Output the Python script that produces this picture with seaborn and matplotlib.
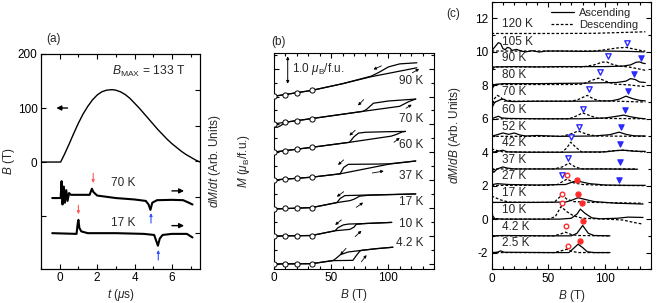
import matplotlib
matplotlib.use("Agg")
import matplotlib.pyplot as plt
from matplotlib.lines import Line2D
from matplotlib.ticker import MultipleLocator, FixedLocator, NullFormatter
import numpy as np
import pandas as pd
import seaborn as sns

# ================= DATA =================
# ---- panel (a): pulsed field profile and dM/dt traces ----
t_field = [-1.0, 0.05, 0.25, 0.5, 0.75, 1.0, 1.25, 1.5, 1.75, 2.0, 2.25, 2.5, 2.8, 3.0,
           3.25, 3.5, 3.75, 4.0, 4.25, 4.5, 4.75, 5.0, 5.25, 5.5, 5.75, 6.0, 6.25,
           6.5, 6.75, 7.0, 7.25, 7.5]
B_field = [0, 0, 14, 33, 53, 72, 89, 103, 115, 124, 130, 133, 134, 133,
           130, 125, 118, 109, 100, 90, 80, 70, 60, 51, 42, 34, 27,
           20, 14, 9, 4, 0]
dmdt_70K_t = [-0.4, 0.05, 0.1, 0.15, 0.22, 0.28, 0.35, 0.42, 0.5, 0.6, 1.0, 1.6, 1.72, 1.8,
              2.0, 3.0, 4.0, 4.6, 4.75, 4.85, 4.95, 5.2, 6.0, 6.6, 6.9, 7.1]
dmdt_70K_v = [-1.02, -1.02, -0.55, -1.2, -0.7, -1.15, -0.8, -1.1, -0.88, -0.93, -0.93, -0.93,
              -0.76, -0.85, -0.95, -1.02, -1.06, -1.1, -1.2, -1.35, -1.15, -1.08, -1.07,
              -1.08, -1.15, -1.2]
dmdt_17K_t = [-0.4, 0.9, 0.97, 1.0, 1.05, 1.15, 1.5, 3.0, 4.5, 5.05, 5.15, 5.25, 5.35, 5.5,
              6.0, 6.8, 7.1]
dmdt_17K_v = [-2.0, -2.02, -1.7, -1.63, -1.85, -1.95, -2.0, -2.0, -2.02, -2.05, -2.2, -2.35,
              -2.15, -2.05, -2.02, -2.02, -2.12]

# ---- panel (b): magnetisation curves (B [T], M relative to offset) ----
b_temps = ["90 K", "70 K", "60 K", "37 K", "17 K", "10 K", "4.2 K"]
b_offsets = [6.01, 5.02, 4.01, 3.01, 1.97, 1.0, 0.0]
b_label_y = [6.55, 5.21, 4.28, 3.15, 2.23, 1.43, 0.74]
m_asc_90K = [(0, 0), (33, 0.21), (60, 0.45), (85, 0.7), (125, 1.02)]
m_desc_90K = [(125, 1.2), (110, 1.16), (100, 1.05), (92, 0.86), (85, 0.72), (60, 0.45), (33, 0.21), (0, 0)]
m_asc_70K = [(0, 0), (10, 0.06), (33, 0.19), (78, 0.45), (110, 0.63), (118, 0.8), (124, 0.89)]
m_desc_70K = [(124, 0.89), (100, 0.82), (87, 0.74), (81, 0.52), (78, 0.45), (33, 0.19), (10, 0.06),
              (6, -0.06), (3, -0.12), (0, -0.12)]
m_asc_60K = [(0, 0), (33, 0.17), (66, 0.35), (102.5, 0.57), (107, 0.63), (112, 0.72), (115, 0.74)]
m_desc_60K = [(115, 0.74), (100, 0.73), (80, 0.71), (74, 0.68), (70, 0.55), (66, 0.35), (33, 0.17), (0, 0)]
m_asc_37K = [(0, 0), (33, 0.1), (57.8, 0.22), (101, 0.57), (124, 0.68)]
m_desc_37K = [(124, 0.68), (101, 0.58), (90, 0.57), (65, 0.56), (61, 0.45), (57.8, 0.22), (33, 0.1), (0, 0)]
m_asc_17K = [(0, 0), (33, 0.05), (55, 0.23), (66.4, 0.3), (70, 0.35), (75, 0.46), (82, 0.49), (124, 0.54)]
m_desc_17K = [(124, 0.54), (80, 0.5), (62, 0.48), (58, 0.38), (55, 0.23), (33, 0.05), (0, 0)]
m_asc_10K = [(0, 0), (33, 0.02), (53.4, 0.19), (66.4, 0.24), (70, 0.32), (72, 0.42), (80, 0.45), (103, 0.49)]
m_desc_10K = [(103, 0.49), (80, 0.45), (65, 0.43), (60.7, 0.4), (56, 0.3), (53.4, 0.19), (33, 0.02), (0, 0)]
m_asc_4K = [(0, 0), (33, 0.01), (52, 0.12), (69, 0.13), (72, 0.3), (75, 0.46), (77, 0.49), (90, 0.55), (104, 0.6)]
m_desc_4K = [(104, 0.6), (90, 0.55), (77, 0.49), (65, 0.43), (58, 0.33), (54, 0.19), (52, 0.13), (33, 0.01), (0, 0)]
b_circle_B = [0, 10, 20, 33]
b_circle_M = [[0, 0.06, 0.12, 0.21], [0, 0.06, 0.12, 0.19], [0, 0.05, 0.1, 0.17],
              [0, 0.03, 0.06, 0.1], [0, 0.02, 0.03, 0.05], [0, 0.01, 0.01, 0.02], [0, 0, 0, 0.01]]
# arrows (tail B, tail M, head B, head M) in absolute plot units
b_arrows = [(94, 7.1, 87, 6.97), (121, 6.85, 127, 6.99),
            (78.5, 5.89, 73.5, 5.68), (115.5, 5.58, 120.5, 5.71),
            (71, 4.79, 66, 4.6), (105, 4.36, 110, 4.52),
            (61, 3.73, 56, 3.55), (86, 3.26, 96, 3.33),
            (61, 2.59, 55, 2.41), (72, 2.03, 78, 2.2),
            (59, 1.58, 53.5, 1.4), (71, 0.98, 76.5, 1.19),
            (63, 0.56, 58, 0.33), (76.5, 0.08, 81, 0.32)]

# ---- panel (c): dM/dB curves (B [T], value relative to offset) ----
c_temps = ["120 K", "105 K", "90 K", "80 K", "70 K", "60 K", "52 K", "42 K", "37 K",
           "27 K", "17 K", "10 K", "4.2 K", "2.5 K"]
c_offsets = [11.1, 10.05, 9.1, 8.05, 7.05, 6.0, 4.95, 4.0, 3.0, 2.02, 1.0, 0.0, -1.0, -2.0]
asc_120K = []
desc_120K = [(0, 0), (60, 0), (90, 0.01), (110, 0.05), (135, 0.1)]
asc_105K = [(0, 0), (3, 0.25), (6, 0.5), (8, 0.45), (10, 0.15), (12, 0.08), (14, 0.22), (16, 0.18),
            (18, 0.04), (22, 0.1), (26, 0), (30, -0.05), (36, 0.02), (42, -0.06), (48, 0),
            (60, 0), (80, -0.02), (100, 0.0), (120, -0.02), (134, -0.05)]
desc_105K = [(0, 0), (90, 0), (100, 0.08), (110, 0.18), (118, 0.22), (125, 0.12), (132, 0.02), (135, 0)]
asc_90K = [(0, -0.5), (1, -0.1), (3, 0), (20, 0.02), (40, 0.0), (60, 0.02), (80, 0.02), (100, 0.02),
           (115, 0.05), (122, 0.12), (127, 0.28), (130, 0.3), (133, 0.22), (135, 0.2)]
desc_90K = [(0, 0), (80, 0), (90, 0.12), (97, 0.28), (101, 0.3), (105, 0.18), (112, 0.05), (120, 0),
            (128, -0.1), (135, -0.2)]
asc_80K = [(0, -0.6), (1, -0.2), (3, 0.0), (10, 0.05), (40, 0.05), (80, 0.08), (110, 0.12),
           (118, 0.2), (122, 0.35), (126, 0.3), (130, 0.15), (135, 0.12)]
desc_80K = [(0, 0), (70, 0), (80, 0.02), (88, 0.25), (94, 0.38), (100, 0.2), (108, 0.02), (120, -0.02),
            (128, -0.08), (135, -0.12)]
asc_70K = [(0, -0.7), (1, -0.3), (3, -0.05), (5, 0.0), (8, 0.1), (11, 0.12), (14, 0.0), (20, -0.02),
           (40, 0), (80, 0), (105, 0.02), (112, 0.12), (118, 0.3), (124, 0.15), (130, 0.05), (135, 0.02)]
desc_70K = [(0, -0.4), (2, 0.1), (5, 0.35), (8, 0.25), (11, 0.0), (15, 0.05), (20, 0), (70, 0),
            (76, 0.1), (84, 0.35), (90, 0.12), (96, 0.02), (110, 0), (135, -0.05)]
asc_60K = [(0, 0), (3, 0.08), (6, 0.15), (9, 0.05), (15, 0.02), (40, 0), (80, 0), (100, 0.05),
           (110, 0.15), (116, 0.22), (122, 0.12), (130, 0.03), (135, 0.0)]
desc_60K = [(0, -0.05), (10, 0), (68, 0), (74, 0.15), (80, 0.35), (86, 0.2), (92, 0.05), (100, 0.02), (135, 0)]
asc_52K = [(0, 0), (5, 0.1), (10, 0.2), (15, 0.12), (20, 0.2), (25, 0.08), (30, 0.02), (40, 0.05),
           (60, 0), (90, 0.02), (104, 0.1), (112, 0.25), (118, 0.12), (125, 0.03), (135, 0.02)]
desc_52K = [(0, 0), (30, 0), (62, 0), (70, 0.15), (76, 0.32), (84, 0.12), (92, 0.02), (135, 0)]
asc_42K = [(0, 0), (5, 0.05), (10, 0.12), (14, 0.02), (30, 0), (60, 0), (100, 0.02), (110, 0.1),
           (116, 0.12), (125, 0.06), (135, 0.05)]
desc_42K = [(0, 0.2), (5, 0.1), (10, 0.02), (50, 0), (62, 0), (66, 0.25), (69.5, 0.6), (74, 0.3),
            (79, 0.02), (95, 0), (105, 0.08), (115, 0.12), (125, 0.08), (135, 0)]
asc_37K = [(0, 0.05), (2, -0.2), (5, 0.0), (10, 0.12), (14, 0.05), (20, 0.0), (60, 0), (100, 0.0), (128, -0.02)]
desc_37K = [(0, 0), (55, 0), (62, 0.12), (68, 0.35), (74, 0.1), (80, 0), (128, 0)]
asc_27K = [(0, -0.3), (1, 0.05), (5, 0.1), (15, 0.05), (40, 0.02), (65, 0.05), (72, 0.22), (78, 0.22),
           (86, 0.1), (100, 0.02), (120, 0.0), (135, 0.0)]
desc_27K = [(0, 0), (50, 0), (58, 0.05), (63, 0.25), (66.5, 0.38), (72, 0.15), (80, 0.05), (100, 0), (135, -0.02)]
asc_17K = [(0, 0), (40, 0), (65, 0.02), (70, 0.12), (76, 0.28), (82, 0.18), (90, 0.05), (110, -0.05),
           (125, -0.08), (133, -0.1)]
desc_17K = [(0, 0.38), (8, 0.15), (15, 0.02), (30, 0), (55, 0), (58, 0.2), (62, 0.45), (66, 0.2),
            (72, 0.05), (90, 0), (133, -0.05)]
asc_10K = [(0, 0.85), (1, 0.2), (3, 0.02), (10, 0), (60, 0), (70, 0.05), (75, 0.3), (78, 0.6), (82, 0.35),
           (88, 0.08), (95, 0.02), (110, 0.05), (120, 0.12), (133, 0.1)]
desc_10K = [(0, 0.05), (10, 0.0), (50, 0), (56, 0.15), (61, 0.75), (66, 0.45), (72, 0.2), (80, 0.05),
            (100, 0), (115, -0.05), (125, -0.2), (133, -0.3)]
asc_4K = [(0, 0), (10, 0.02), (50, 0), (70, 0), (75, 0.15), (80, 0.62), (85, 0.15), (90, 0.02), (104, 0.0)]
desc_4K = [(0, 0), (55, 0), (61, 0.12), (65, 0.22), (70, 0.08), (76, 0.02), (104, 0)]
asc_2K = [(0, 0), (5, 0.02), (8, 0.1), (11, 0.02), (50, 0), (68, 0), (72, 0.25), (76, 0.5), (80, 0.3),
          (84, 0.05), (90, 0), (104, 0)]
desc_2K = [(0, 0), (55, 0), (62, 0.12), (66, 0.2), (70, 0.08), (76, 0.0), (104, 0)]
c_asc = [asc_120K, asc_105K, asc_90K, asc_80K, asc_70K, asc_60K, asc_52K, asc_42K, asc_37K,
         asc_27K, asc_17K, asc_10K, asc_4K, asc_2K]
c_desc = [desc_120K, desc_105K, desc_90K, desc_80K, desc_70K, desc_60K, desc_52K, desc_42K, desc_37K,
          desc_27K, desc_17K, desc_10K, desc_4K, desc_2K]
# markers (B, plotted value)
tri_open_B = [119, 102, 95, 85.6, 80.3, 76.6, 69.5, 67.5, 62.3]
tri_open_v = [10.53, 9.73, 8.81, 7.8, 6.57, 5.5, 4.94, 3.68, 2.62]
tri_fill_B = [131, 124.7, 119.8, 116.9, 113.9, 113, 112.4, 111.9]
tri_fill_v = [9.61, 8.69, 7.67, 6.51, 5.48, 4.52, 3.42, 2.34]
circ_open_B = [66.7, 61.7, 61.7, 65.5, 67.5]
circ_open_v = [2.62, 1.53, 0.95, -0.4, -1.6]
circ_fill_B = [75.1, 76.3, 79.5, 80.3, 77.7]
circ_fill_v = [2.34, 1.53, 0.96, -0.1, -1.28]

# ================= STYLE =================
FS = 8.5
sns.set_theme(style="ticks")
plt.rcParams.update({
    "font.family": ["Liberation Sans", "DejaVu Sans"],
    "font.size": FS,
    "mathtext.fontset": "custom",
    "mathtext.rm": "Liberation Sans",
    "mathtext.it": "Liberation Sans:italic",
    "mathtext.bf": "Liberation Sans:bold",
    "axes.unicode_minus": False,
    "axes.linewidth": 0.8,
    "axes.edgecolor": "black",
    "xtick.color": "black",
    "ytick.color": "black",
})

W, H = 661, 303
fig = plt.figure(figsize=(W / 100, H / 100), dpi=100)


def frac(l, t, r, b):
    return [l / W, 1 - b / H, (r - l) / W, (b - t) / H]


def tickstyle(ax, **kw):
    ax.tick_params(which="both", direction="in", top=True, right=True, width=0.8,
                   labelsize=FS, pad=2.5, colors="black", **kw)
    ax.tick_params(which="major", length=3.5)
    ax.tick_params(which="minor", length=2)


def draw(ax, pts, off=0.0, **kw):
    if len(pts) == 0:
        return
    df = pd.DataFrame(pts, columns=["x", "y"])
    df["y"] = df["y"] + off
    sns.lineplot(data=df, x="x", y="y", ax=ax, sort=False, estimator=None,
                 legend=False, **kw)


def arrow(ax, tail, head, color="black", ms=6, lw=0.8):
    ax.annotate("", xy=head, xytext=tail,
                arrowprops=dict(arrowstyle="-|>", color=color, lw=lw,
                                mutation_scale=ms, shrinkA=0, shrinkB=0))


# ================= PANEL (a) =================
axA = fig.add_axes(frac(41, 54, 200, 269))
draw(axA, list(zip(t_field, B_field)), color="black", linewidth=1.0)
axA.set_xlim(-1, 7.5)
axA.set_ylim(-198, 200)
axA.xaxis.set_major_locator(FixedLocator([0, 2, 4, 6]))
axA.xaxis.set_minor_locator(FixedLocator([-1, 1, 3, 5, 7]))
axA.yaxis.set_major_locator(FixedLocator([-100, 0, 100, 200]))
axA.set_yticklabels(["", "0", "100", "200"])
tickstyle(axA)
axA.tick_params(right=False)
axA.set_xlabel(r"$t$ ($\mu$s)", fontsize=FS, labelpad=2)
axA.set_ylabel(r"$B$ (T)", fontsize=FS)
axA.yaxis.set_label_coords(-0.15, 0.5)

axA2 = axA.twinx()
draw(axA2, list(zip(dmdt_70K_t, dmdt_70K_v)), color="black", linewidth=1.5)
draw(axA2, list(zip(dmdt_17K_t, dmdt_17K_v)), color="black", linewidth=1.5)
axA2.set_ylim(-3, 3)
axA2.yaxis.set_major_locator(FixedLocator([-2, -1, 0, 1, 2]))
axA2.yaxis.set_major_formatter(NullFormatter())
axA2.tick_params(which="both", direction="in", length=3.5, width=0.8, left=False, right=True)
axA2.set_ylabel(r"$dM/dt$ (Arb. Units)", fontsize=FS)
axA2.yaxis.set_label_coords(1.045, 0.5)
axA2.set_xlabel("")
for sp in axA2.spines.values():
    sp.set_linewidth(0.8)

axA.text(2.8, 168, r"$B_{\mathrm{MAX}}$ = 133 T", fontsize=8.7, ha="left", va="center")
arrow(axA, (0.42, 100), (-0.18, 100), ms=7, lw=1.0)
axA2.text(3.37, -0.6, "70 K", fontsize=FS, ha="center", va="center")
axA2.text(3.37, -1.73, "17 K", fontsize=FS, ha="center", va="center")
arrow(axA2, (6.0, -0.82), (6.65, -0.82), ms=7, lw=1.0)
arrow(axA2, (6.0, -1.79), (6.65, -1.79), ms=7, lw=1.0)
arrow(axA2, (1.79, -0.33), (1.79, -0.6), color="#ff5a5a", ms=4, lw=0.8)
arrow(axA2, (1.0, -1.22), (1.0, -1.47), color="#ff5a5a", ms=4, lw=0.8)
arrow(axA2, (4.88, -1.72), (4.88, -1.44), color="#3050ff", ms=4, lw=0.8)
arrow(axA2, (5.27, -2.75), (5.27, -2.47), color="#3050ff", ms=4, lw=0.8)
fig.text(53 / W, 1 - 39 / H, "(a)", fontsize=FS, ha="center", va="center")

# ================= PANEL (b) =================
axB = fig.add_axes(frac(274, 53, 434, 269))
b_asc = [m_asc_90K, m_asc_70K, m_asc_60K, m_asc_37K, m_asc_17K, m_asc_10K, m_asc_4K]
b_desc = [m_desc_90K, m_desc_70K, m_desc_60K, m_desc_37K, m_desc_17K, m_desc_10K, m_desc_4K]
for i, lab in enumerate(b_temps):
    off = b_offsets[i]
    draw(axB, b_asc[i], off, color="black", linewidth=0.9)
    draw(axB, b_desc[i], off, color="black", linewidth=0.9)
    sns.scatterplot(x=b_circle_B, y=[m + off for m in b_circle_M[i]], ax=axB, marker="o", s=14,
                    facecolor="white", edgecolor="black", linewidth=0.7, zorder=5, legend=False)
    axB.text(130.5, b_label_y[i], lab, fontsize=FS, ha="right", va="center")
for (tb, tm, hb, hm) in b_arrows:
    arrow(axB, (tb, tm), (hb, hm), ms=4, lw=0.6)
axB.annotate("", xy=(12, 7.44), xytext=(12, 6.46),
             arrowprops=dict(arrowstyle="<|-|>", color="black", lw=0.7, mutation_scale=4,
                             shrinkA=0, shrinkB=0))
axB.text(16, 7.0, r"1.0 $\mu_{\mathrm{B}}$/f.u.", fontsize=FS, ha="left", va="center")
axB.set_xlim(0, 140)
axB.set_ylim(-0.18, 7.56)
axB.xaxis.set_major_locator(MultipleLocator(50))
axB.xaxis.set_minor_locator(MultipleLocator(10))
axB.yaxis.set_major_locator(MultipleLocator(1))
axB.yaxis.set_minor_locator(MultipleLocator(0.5))
axB.yaxis.set_major_formatter(NullFormatter())
tickstyle(axB)
axB.set_xlabel(r"$B$ (T)", fontsize=FS, labelpad=2)
axB.set_ylabel(r"$M$ ($\mu_{\mathrm{B}}$/f.u.)", fontsize=FS)
axB.yaxis.set_label_coords(-0.14, 0.5)
fig.text(279 / W, 1 - 41.5 / H, "(b)", fontsize=FS, ha="center", va="center")

# ================= PANEL (c) =================
axC = fig.add_axes(frac(491.5, 1.7, 651, 269.3))
dash = (0, (2.2, 1.5))
for i, lab in enumerate(c_temps):
    off = c_offsets[i]
    draw(axC, c_desc[i], off, color="black", linewidth=0.9, linestyle=dash)
    draw(axC, c_asc[i], off, color="black", linewidth=0.9)
    axC.text(9.5, off + 0.55, lab, fontsize=FS, ha="left", va="center")
blue = "#2a2aff"
red = "#ff2a2a"
sns.scatterplot(x=tri_open_B, y=tri_open_v, ax=axC, marker="v", s=15, facecolor="white",
                edgecolor=blue, linewidth=1.0, zorder=5, legend=False)
sns.scatterplot(x=tri_fill_B, y=tri_fill_v, ax=axC, marker="v", s=15, facecolor=blue,
                edgecolor=blue, linewidth=0.8, zorder=5, legend=False)
sns.scatterplot(x=circ_open_B, y=circ_open_v, ax=axC, marker="o", s=11, facecolor="white",
                edgecolor=red, linewidth=1.0, zorder=5, legend=False)
sns.scatterplot(x=circ_fill_B, y=circ_fill_v, ax=axC, marker="o", s=14, facecolor=red,
                edgecolor=red, linewidth=0.8, zorder=5, legend=False)
axC.set_xlim(0, 140)
axC.set_ylim(-3, 13)
axC.xaxis.set_major_locator(MultipleLocator(50))
axC.xaxis.set_minor_locator(MultipleLocator(10))
axC.yaxis.set_major_locator(MultipleLocator(2))
axC.yaxis.set_minor_locator(MultipleLocator(1))
tickstyle(axC)
axC.set_xlabel(r"$B$ (T)", fontsize=FS, labelpad=2)
axC.set_ylabel(r"$dM/dB$ (Arb. Units)", fontsize=FS)
axC.yaxis.set_label_coords(-0.18, 0.5)
handles = [Line2D([], [], color="black", lw=0.9),
           Line2D([], [], color="black", lw=0.9, linestyle=dash)]
axC.legend(handles, ["Ascending", "Descending"], loc="upper right", frameon=False,
           bbox_to_anchor=(0.945, 0.993), fontsize=8, handlelength=2.1, handletextpad=0.4,
           labelspacing=0.2, borderaxespad=0.2, borderpad=0.2)
fig.text(453 / W, 1 - 14 / H, "(c)", fontsize=FS, ha="center", va="center")

fig.savefig("out.png", dpi=100)
